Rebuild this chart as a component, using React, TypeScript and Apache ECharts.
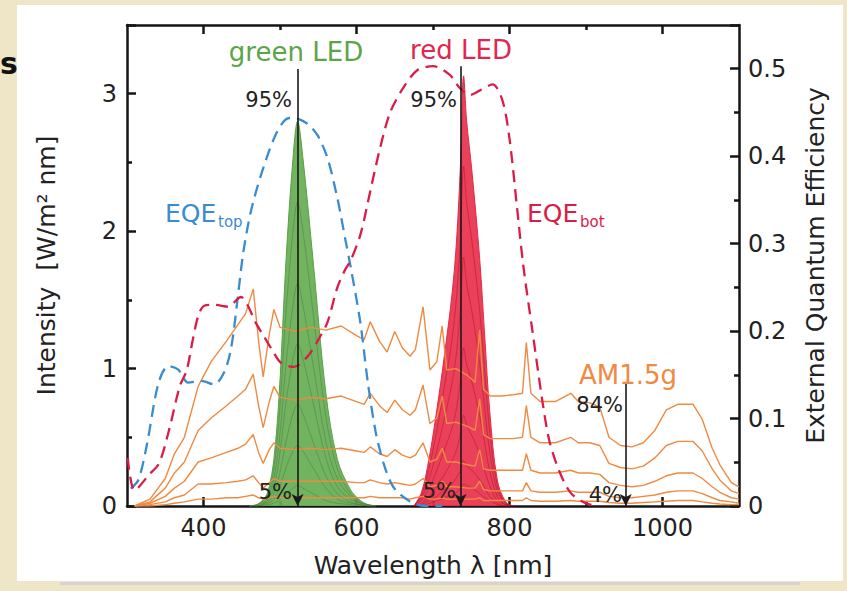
import React, { useEffect, useRef } from "react";
import * as echarts from "echarts";

// ---------- AM1.5g spectra (Intensity, W/m² nm) ----------
const AM_NM = [310, 330, 350, 362, 375, 393, 410, 430, 445, 455, 465, 472, 478, 486, 492, 500, 520, 540, 560, 580, 600, 610, 618, 630, 640, 650, 660, 670, 677, 687, 696, 705, 712, 718, 730, 745, 755, 761, 766, 775, 790, 805, 817, 822, 828, 840, 860, 880, 890, 905, 918, 930, 945, 960, 975, 990, 1005, 1020, 1040, 1052, 1065, 1075, 1090, 1100];
const AM_1 = [0, 0.05, 0.2, 0.38, 0.5, 0.87, 1.05, 1.2, 1.32, 1.4, 1.58, 1.2, 0.94, 1.25, 1.43, 1.3, 1.27, 1.3, 1.28, 1.31, 1.24, 1.21, 1.34, 1.2, 1.12, 1.27, 1.15, 1.09, 1.14, 1.45, 0.99, 1.05, 1.31, 0.99, 1.0, 0.95, 0.9, 1.28, 0.85, 0.8, 0.8, 0.81, 0.82, 1.19, 0.82, 0.76, 0.76, 0.82, 0.76, 0.75, 0.72, 0.5, 0.44, 0.43, 0.46, 0.55, 0.7, 0.74, 0.74, 0.63, 0.42, 0.3, 0.17, 0.14];
const AM_2 = [0, 0.03, 0.13, 0.24, 0.32, 0.55, 0.64, 0.73, 0.8, 0.85, 0.96, 0.73, 0.57, 0.76, 0.87, 0.79, 0.77, 0.79, 0.78, 0.8, 0.76, 0.74, 0.82, 0.73, 0.68, 0.77, 0.7, 0.66, 0.7, 0.88, 0.6, 0.64, 0.8, 0.6, 0.61, 0.58, 0.55, 0.78, 0.52, 0.49, 0.49, 0.49, 0.5, 0.73, 0.5, 0.46, 0.46, 0.5, 0.46, 0.46, 0.44, 0.31, 0.28, 0.27, 0.29, 0.35, 0.44, 0.47, 0.47, 0.4, 0.27, 0.19, 0.11, 0.09];
const AM_3 = [0, 0.02, 0.07, 0.13, 0.18, 0.32, 0.35, 0.39, 0.42, 0.45, 0.52, 0.39, 0.31, 0.41, 0.46, 0.42, 0.41, 0.42, 0.41, 0.42, 0.4, 0.39, 0.43, 0.38, 0.36, 0.41, 0.37, 0.35, 0.37, 0.46, 0.32, 0.34, 0.42, 0.32, 0.32, 0.3, 0.29, 0.41, 0.27, 0.26, 0.26, 0.26, 0.26, 0.38, 0.26, 0.24, 0.24, 0.26, 0.24, 0.24, 0.23, 0.17, 0.15, 0.14, 0.15, 0.18, 0.22, 0.24, 0.24, 0.2, 0.14, 0.1, 0.06, 0.05];
const AM_4 = [0, 0.01, 0.03, 0.06, 0.08, 0.16, 0.16, 0.17, 0.18, 0.19, 0.22, 0.17, 0.13, 0.17, 0.2, 0.18, 0.18, 0.18, 0.18, 0.18, 0.17, 0.17, 0.19, 0.17, 0.16, 0.17, 0.16, 0.15, 0.16, 0.2, 0.14, 0.15, 0.18, 0.14, 0.14, 0.13, 0.13, 0.18, 0.12, 0.11, 0.11, 0.11, 0.11, 0.17, 0.11, 0.1, 0.1, 0.11, 0.1, 0.1, 0.1, 0.07, 0.06, 0.06, 0.07, 0.08, 0.1, 0.11, 0.11, 0.09, 0.06, 0.04, 0.03, 0.02];
const AM_5 = [0, 0, 0.01, 0.02, 0.03, 0.05, 0.05, 0.06, 0.06, 0.07, 0.08, 0.06, 0.05, 0.06, 0.07, 0.06, 0.06, 0.06, 0.06, 0.06, 0.06, 0.06, 0.07, 0.06, 0.06, 0.06, 0.06, 0.05, 0.06, 0.07, 0.05, 0.05, 0.06, 0.05, 0.05, 0.05, 0.05, 0.06, 0.04, 0.04, 0.04, 0.04, 0.04, 0.06, 0.04, 0.035, 0.035, 0.04, 0.035, 0.035, 0.035, 0.025, 0.02, 0.02, 0.025, 0.03, 0.035, 0.04, 0.04, 0.03, 0.02, 0.015, 0.01, 0.01];

// ---------- green LED spectra ----------
const GREEN_NM = [460, 470, 480, 485, 492, 499, 508, 517, 523, 530, 543, 560, 575, 592, 605, 615, 625];
const GREEN_95 = [0, 0.01, 0.06, 0.12, 0.34, 0.82, 1.8, 2.53, 2.8, 2.53, 1.8, 0.82, 0.34, 0.12, 0.04, 0.01, 0];
const GREEN_75 = [0, 0.01, 0.05, 0.09, 0.27, 0.65, 1.42, 2.0, 2.21, 2.0, 1.42, 0.65, 0.27, 0.09, 0.03, 0.01, 0];
const GREEN_55 = [0, 0.01, 0.03, 0.07, 0.2, 0.47, 1.04, 1.46, 1.62, 1.46, 1.04, 0.47, 0.2, 0.07, 0.02, 0.01, 0];
const GREEN_40 = [0, 0, 0.02, 0.05, 0.14, 0.35, 0.76, 1.07, 1.18, 1.07, 0.76, 0.35, 0.14, 0.05, 0.02, 0, 0];
const GREEN_25 = [0, 0, 0.02, 0.03, 0.09, 0.22, 0.47, 0.67, 0.74, 0.67, 0.47, 0.22, 0.09, 0.03, 0.01, 0, 0];
const GREEN_15 = [0, 0, 0.01, 0.02, 0.05, 0.13, 0.28, 0.4, 0.44, 0.4, 0.28, 0.13, 0.05, 0.02, 0.01, 0, 0];
const GREEN_5 = [0, 0, 0, 0.01, 0.02, 0.04, 0.09, 0.13, 0.15, 0.13, 0.09, 0.04, 0.02, 0.01, 0, 0, 0];

// ---------- red LED spectra ----------
const RED_NM = [675, 685, 695, 705, 715, 725, 731, 736, 740, 744, 751, 761, 768, 774, 784, 795, 805];
const RED_95 = [0, 0.1, 0.35, 0.7, 1.1, 1.55, 1.95, 2.5, 3.13, 2.8, 2.43, 1.8, 1.2, 0.7, 0.19, 0.03, 0];
const RED_75 = [0, 0.08, 0.28, 0.55, 0.87, 1.22, 1.54, 1.97, 2.47, 2.21, 1.92, 1.42, 0.95, 0.55, 0.15, 0.02, 0];
const RED_55 = [0, 0.06, 0.2, 0.4, 0.64, 0.9, 1.13, 1.45, 1.81, 1.62, 1.41, 1.04, 0.69, 0.4, 0.11, 0.02, 0];
const RED_35 = [0, 0.04, 0.13, 0.26, 0.41, 0.57, 0.72, 0.92, 1.15, 1.03, 0.9, 0.66, 0.44, 0.26, 0.07, 0.01, 0];
const RED_20 = [0, 0.02, 0.07, 0.15, 0.23, 0.33, 0.41, 0.53, 0.66, 0.59, 0.51, 0.38, 0.25, 0.15, 0.04, 0.01, 0];
const RED_10 = [0, 0.01, 0.04, 0.07, 0.12, 0.16, 0.21, 0.26, 0.33, 0.29, 0.26, 0.19, 0.13, 0.07, 0.02, 0, 0];
const RED_5 = [0, 0, 0.02, 0.04, 0.06, 0.08, 0.1, 0.13, 0.16, 0.15, 0.13, 0.09, 0.06, 0.04, 0.01, 0, 0];

// ---------- external quantum efficiencies ----------
const EQE_TOP_NM = [305, 315, 326, 341, 354, 367, 380, 397, 414, 427, 436, 445, 452, 462, 475, 492, 505, 514, 523, 536, 549, 562, 575, 586, 592, 605, 615, 625, 635, 648, 670, 690, 712];
const EQE_TOP = [0.02, 0.03, 0.07, 0.14, 0.16, 0.156, 0.141, 0.143, 0.139, 0.153, 0.18, 0.24, 0.29, 0.337, 0.378, 0.42, 0.44, 0.444, 0.443, 0.437, 0.424, 0.398, 0.352, 0.302, 0.275, 0.21, 0.14, 0.085, 0.05, 0.022, 0.005, 0.0, 0.0];
const EQE_BOT_NM = [301, 310, 329, 342, 355, 369, 378, 386, 393, 401, 415, 432, 449, 458, 468, 479, 490, 501, 518, 536, 550, 562, 575, 585, 592, 605, 618, 631, 644, 661, 679, 700, 722, 735, 748, 761, 778, 791, 800, 810, 818, 830, 843, 852, 865, 880, 900, 915];
const EQE_BOT = [0.055, 0.018, 0.036, 0.049, 0.087, 0.137, 0.155, 0.19, 0.217, 0.229, 0.23, 0.228, 0.239, 0.229, 0.21, 0.194, 0.178, 0.164, 0.159, 0.171, 0.19, 0.21, 0.25, 0.27, 0.28, 0.31, 0.36, 0.41, 0.45, 0.478, 0.498, 0.503, 0.493, 0.478, 0.47, 0.475, 0.482, 0.463, 0.42, 0.34, 0.275, 0.2, 0.12, 0.075, 0.04, 0.015, 0.003, 0];

// ---------- axes ----------
const X_MAJOR = [400, 600, 800, 1000];
const X_MINOR = [500, 700, 900];

// arrows: [wavelength, top intensity]
const ARROWS = [
  [523, 3.18],
  [736, 3.2],
  [952, 0.9],
];

const FONT = "DejaVu Sans";
const BLUE = "#3a8cd0";
const CRIMSON = "#d91c48";
const ORANGE = "#ef8a42";

const zip = (xs: number[], ys: number[]) => xs.map((x, i) => [x, ys[i]]);

export default function App() {
  const ref = useRef<HTMLDivElement>(null);

  useEffect(() => {
    if (!ref.current) return;
    const chart = echarts.init(ref.current, undefined, { renderer: "svg" });

    const axisLine = { show: true, onZero: false, lineStyle: { color: "#151515", width: 2.5 } };
    const tickStyle = { color: "#151515", width: 2.5 };

    const xBase = { type: "value", min: 300, max: 1100, interval: 100, splitLine: { show: false }, gridIndex: 0 };

    const greenLines = [GREEN_75, GREEN_55, GREEN_40, GREEN_25, GREEN_15, GREEN_5].map((d) => ({
      type: "line",
      data: zip(GREEN_NM, d),
      smooth: 0.35,
      symbol: "none",
      lineStyle: { color: "rgba(70,125,65,0.6)", width: 0.8 },
      silent: true,
    }));
    const redLines = [RED_75, RED_55, RED_35, RED_20, RED_10, RED_5].map((d) => ({
      type: "line",
      data: zip(RED_NM, d),
      smooth: 0.35,
      symbol: "none",
      lineStyle: { color: "rgba(170,20,40,0.6)", width: 0.8 },
      silent: true,
    }));
    const amLines = [AM_1, AM_2, AM_3, AM_4, AM_5].map((d) => ({
      type: "line",
      data: zip(AM_NM, d),
      symbol: "none",
      lineStyle: { color: ORANGE, width: 1.4 },
      silent: true,
    }));

    const text = (t: string, x: number, y: number, size: number, fill: string, align = "left") => ({
      type: "text",
      x,
      y,
      z: 100,
      silent: true,
      style: { text: t, fill, font: `${size}px "${FONT}"`, align, verticalAlign: "middle" },
    });

    chart.setOption({
      animation: false,
      backgroundColor: "transparent",
      grid: { left: 127, top: 25, width: 612, height: 481, containLabel: false },
      xAxis: [
        {
          ...xBase,
          position: "bottom",
          axisLine,
          axisTick: { show: true, inside: true, length: 9, customValues: X_MAJOR, lineStyle: tickStyle },
          axisLabel: {
            customValues: X_MAJOR,
            fontSize: 24,
            fontFamily: FONT,
            color: "#222",
            margin: 10,
            formatter: (v: number) => String(v),
          },
          name: "Wavelength λ [nm]",
          nameLocation: "middle",
          nameGap: 47,
          nameTextStyle: { fontSize: 25, fontFamily: FONT, color: "#222" },
        },
        {
          ...xBase,
          position: "bottom",
          axisLine: { show: false, onZero: false },
          axisTick: { show: true, inside: true, length: 5, customValues: X_MINOR, lineStyle: tickStyle },
          axisLabel: { show: false },
        },
        {
          ...xBase,
          position: "top",
          axisLine,
          axisTick: { show: true, inside: true, length: 9, customValues: X_MAJOR, lineStyle: tickStyle },
          axisLabel: { show: false },
        },
        {
          ...xBase,
          position: "top",
          axisLine: { show: false, onZero: false },
          axisTick: { show: true, inside: true, length: 5, customValues: X_MINOR, lineStyle: tickStyle },
          axisLabel: { show: false },
        },
      ],
      yAxis: [
        {
          type: "value",
          position: "left",
          min: 0,
          max: 3.5,
          interval: 1,
          axisLine,
          axisTick: { show: true, inside: true, length: 9, lineStyle: tickStyle },
          minorTick: { show: true, splitNumber: 2, length: 5, lineStyle: tickStyle },
          splitLine: { show: false },
          axisLabel: {
            fontSize: 24,
            fontFamily: FONT,
            color: "#222",
            margin: 10,
            formatter: (v: number) => (v > 3.01 ? "" : String(Math.round(v))),
          },
          name: "Intensity  [W/m² nm]",
          nameLocation: "middle",
          nameRotate: 90,
          nameGap: 68,
          nameTextStyle: { fontSize: 25, fontFamily: FONT, color: "#222" },
        },
        {
          type: "value",
          position: "right",
          min: 0,
          max: 0.55,
          interval: 0.1,
          axisLine,
          axisTick: { show: true, inside: true, length: 9, lineStyle: tickStyle },
          minorTick: { show: true, splitNumber: 2, length: 5, lineStyle: tickStyle },
          splitLine: { show: false },
          axisLabel: {
            fontSize: 24,
            fontFamily: FONT,
            color: "#222",
            margin: 9,
            formatter: (v: number) => (v > 0.51 ? "" : v < 0.001 ? "0" : v.toFixed(1)),
          },
          name: "External Quantum Efficiency",
          nameLocation: "middle",
          nameRotate: 90,
          nameGap: 64,
          nameTextStyle: { fontSize: 25, fontFamily: FONT, color: "#222" },
        },
      ],
      series: [
        {
          type: "line",
          name: "green LED",
          data: zip(GREEN_NM, GREEN_95),
          smooth: 0.35,
          symbol: "none",
          lineStyle: { color: "#58a044", width: 1 },
          areaStyle: { color: "#66ad52", opacity: 0.92 },
          silent: true,
          markLine: {
            silent: true,
            symbol: ["none", "arrow"],
            symbolSize: [9, 12],
            label: { show: false },
            lineStyle: { color: "#1a1a1a", width: 1.6, type: "solid" },
            data: ARROWS.map(([x, y]) => [
              { coord: [x, y] },
              { coord: [x, 0] },
            ]),
          },
        },
        ...greenLines,
        {
          type: "line",
          name: "red LED",
          data: zip(RED_NM, RED_95),
          smooth: 0.35,
          symbol: "none",
          lineStyle: { color: "#e22a45", width: 1 },
          areaStyle: { color: "#e8304c", opacity: 0.92 },
          silent: true,
        },
        ...redLines,
        ...amLines,
        {
          type: "line",
          name: "EQE top",
          yAxisIndex: 1,
          data: zip(EQE_TOP_NM, EQE_TOP),
          smooth: 0.3,
          symbol: "none",
          lineStyle: { color: BLUE, width: 2.3, type: [12, 7] },
          silent: true,
        },
        {
          type: "line",
          name: "EQE bot",
          yAxisIndex: 1,
          data: zip(EQE_BOT_NM, EQE_BOT),
          smooth: 0.3,
          symbol: "none",
          lineStyle: { color: CRIMSON, width: 2.3, type: [12, 7] },
          silent: true,
        },
      ],
      graphic: [
        {
          type: "text",
          x: 0,
          y: 63,
          z: 100,
          silent: true,
          style: { text: "s", fill: "#111", font: `bold 30px "${FONT}"`, verticalAlign: "middle" },
        },
        text("green LED", 296, 52, 26, "#5ba549", "center"),
        text("red LED", 461, 50, 26, "#e2264f", "center"),
        text("95%", 292, 100, 21, "#222", "right"),
        text("95%", 457, 100, 21, "#222", "right"),
        text("5%", 292, 492, 21, "#222", "right"),
        text("5%", 456, 491, 21, "#222", "right"),
        text("84%", 623, 405, 21, "#222", "right"),
        text("4%", 622, 495, 21, "#222", "right"),
        text("AM1.5g", 579, 375, 26, ORANGE, "left"),
        text("EQE", 165, 213, 25, BLUE, "left"),
        text("top", 218, 222, 15, BLUE, "left"),
        text("EQE", 527, 213, 25, CRIMSON, "left"),
        text("bot", 580, 222, 15, CRIMSON, "left"),
      ],
    });

    return () => chart.dispose();
  }, []);

  return (
    <div style={{ position: "fixed", left: 0, top: 0, width: 847, height: 591, background: "#efe5c7", overflow: "hidden" }}>
      <div style={{ position: "absolute", left: 17, top: 5, width: 826, height: 576, background: "#ffffff" }} />
      <div style={{ position: "absolute", left: 60, top: 582, width: 740, height: 3, background: "#d4d4d4" }} />
      <div ref={ref} style={{ position: "absolute", left: 0, top: 0, width: 847, height: 591 }} />
    </div>
  );
}
